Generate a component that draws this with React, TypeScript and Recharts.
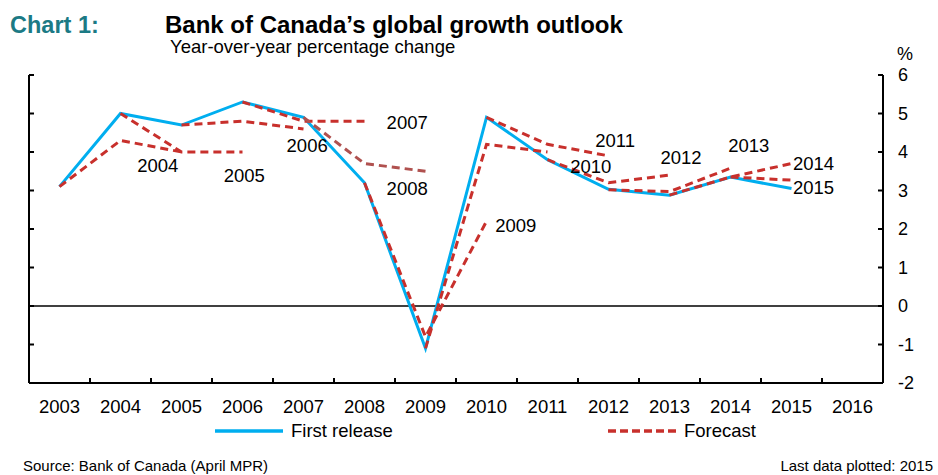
import React from 'react';
import { LineChart, Line, XAxis, YAxis, ReferenceLine, ReferenceDot } from 'recharts';

// ---- Data ----
const years = [2003, 2004, 2005, 2006, 2007, 2008, 2009, 2010, 2011, 2012, 2013, 2014, 2015, 2016];
const firstRelease: (number | null)[] = [3.1, 5.0, 4.7, 5.3, 4.9, 3.2, -1.1, 4.9, 3.8, 3.03, 2.88, 3.35, 3.05, null];

// Forecast vintages (April MPR of each year); each starts the year before the vintage
const vintages = [2004, 2005, 2006, 2007, 2008, 2009, 2010, 2011, 2012, 2013, 2014, 2015];
const forecastValues: number[][] = [
  [3.1, 4.3, 4.0],
  [5.0, 4.0, 4.0],
  [4.7, 4.8, 4.6],
  [5.3, 4.8, 4.8],
  [4.9, 3.7, 3.5],
  [3.2, -0.8, 2.2],
  [-1.1, 4.2, 4.0],
  [4.9, 4.2, 3.9],
  [3.8, 3.2, 3.4],
  [3.02, 2.97, 3.58],
  [2.88, 3.35, 3.7],
  [3.35, 3.27],
];

// Year labels for each forecast vintage (placed in data coordinates)
const vintageLabelX = [2004.61, 2006.03, 2007.06, 2008.7, 2008.7, 2010.48, 2011.71, 2012.11, 2013.19, 2014.3, 2015.36, 2015.36];
const vintageLabelY = [3.66, 3.4, 4.16, 4.77, 3.06, 2.1, 3.62, 4.31, 3.85, 4.16, 3.71, 3.07];

const yTicks = [-2, -1, 0, 1, 2, 3, 4, 5, 6];
const boundaryTicks = [2003.5, 2004.5, 2005.5, 2006.5, 2007.5, 2008.5, 2009.5, 2010.5, 2011.5, 2012.5, 2013.5, 2014.5, 2015.5];

const data = years.map((yr, i) => {
  const row: Record<string, number | null> = { year: yr, first: firstRelease[i] };
  vintages.forEach((v, k) => {
    const idx = yr - (v - 1);
    const vals = forecastValues[k];
    row['f' + v] = idx >= 0 && idx < vals.length ? vals[idx] : null;
  });
  return row;
});

const FONT = "Arial, 'Liberation Sans', Helvetica, sans-serif";
const BLUE = '#00AEEF';
const RED = '#C8302C';
const MUTED_RED = '#B0514F';

const emptyTick = () => <g />;

export default function App() {
  return (
    <div style={{ position: 'absolute', left: 0, top: 0, width: 938, height: 475, background: '#fff', fontFamily: FONT }}>
      <LineChart width={938} height={475} data={data} margin={{ top: 75, right: 0, bottom: 62, left: 29 }}>
        <XAxis
          xAxisId="years"
          type="number"
          dataKey="year"
          domain={[2002.5, 2016.5]}
          ticks={years}
          interval={0}
          tickLine={false}
          tickSize={6}
          tickMargin={11}
          axisLine={{ stroke: '#000', strokeWidth: 2 }}
          tick={{ fill: '#000', fontSize: 18.5, fontFamily: FONT }}
          height={30}
        />
        <XAxis
          xAxisId="marks"
          type="number"
          dataKey="year"
          domain={[2002.5, 2016.5]}
          ticks={boundaryTicks}
          interval={0}
          mirror
          tickSize={5}
          tickLine={{ stroke: '#000', strokeWidth: 2 }}
          axisLine={false}
          tick={emptyTick}
          height={30}
        />
        <YAxis
          yAxisId="pct"
          orientation="right"
          type="number"
          domain={[-2, 6]}
          ticks={yTicks}
          interval={0}
          width={55}
          tickLine={false}
          tickSize={6}
          tickMargin={9}
          axisLine={{ stroke: '#000', strokeWidth: 2 }}
          tick={{ fill: '#000', fontSize: 18, fontFamily: FONT, textAnchor: 'start' }}
        />
        <YAxis
          yAxisId="rightMarks"
          orientation="right"
          type="number"
          domain={[-2, 6]}
          ticks={yTicks}
          interval={0}
          mirror
          width={20}
          tickSize={5}
          tickLine={{ stroke: '#000', strokeWidth: 2 }}
          axisLine={false}
          tick={emptyTick}
        />
        <YAxis
          yAxisId="leftMarks"
          orientation="left"
          type="number"
          domain={[-2, 6]}
          ticks={yTicks}
          interval={0}
          mirror
          width={20}
          tickSize={5}
          tickLine={{ stroke: '#000', strokeWidth: 2 }}
          axisLine={{ stroke: '#000', strokeWidth: 2 }}
          tick={emptyTick}
        />
        <ReferenceLine xAxisId="years" yAxisId="pct" y={0} stroke="#000" strokeWidth={1.5} />
        {/* invisible anchor series so that the tick-mark axes are bound to the data */}
        <Line xAxisId="marks" yAxisId="leftMarks" dataKey="first" stroke="none" dot={false} activeDot={false} isAnimationActive={false} legendType="none" />
        <Line xAxisId="marks" yAxisId="rightMarks" dataKey="first" stroke="none" dot={false} activeDot={false} isAnimationActive={false} legendType="none" />
        <Line
          xAxisId="years"
          yAxisId="pct"
          dataKey="first"
          stroke={BLUE}
          strokeWidth={3}
          dot={false}
          activeDot={false}
          isAnimationActive={false}
          strokeLinejoin="miter"
        />
        {vintages.map((v) => (
          <Line
            key={v}
            xAxisId="years"
            yAxisId="pct"
            dataKey={'f' + v}
            stroke={v === 2008 ? MUTED_RED : RED}
            strokeWidth={3}
            strokeDasharray="8 5"
            dot={false}
            activeDot={false}
            isAnimationActive={false}
          />
        ))}
        {vintages.map((v, i) => (
          <ReferenceDot
            key={'lbl' + v}
            xAxisId="years"
            yAxisId="pct"
            x={vintageLabelX[i]}
            y={vintageLabelY[i]}
            r={0}
            shape={(p: any) => (
              <text
                x={p.cx}
                y={p.cy}
                textAnchor="middle"
                dominantBaseline="central"
                fontSize={18.5}
                fontFamily={FONT}
                fill="#000"
              >
                {String(v)}
              </text>
            )}
          />
        ))}
      </LineChart>
      <svg width={938} height={475} style={{ position: 'absolute', left: 0, top: 0, pointerEvents: 'none' }}>
        <text x={10} y={33} fontSize={23.5} fontWeight="bold" fill="#1B7A85" fontFamily={FONT}>Chart 1:</text>
        <text x={165} y={33} fontSize={24} fontWeight="bold" fill="#000" fontFamily={FONT}>
          Bank of Canada’s global growth outlook
        </text>
        <text x={170} y={53} fontSize={18.5} fill="#000" fontFamily={FONT}>Year-over-year percentage change</text>
        <text x={897} y={60} fontSize={18} fill="#000" fontFamily={FONT}>%</text>
        <line x1={215} y1={431} x2={283} y2={431} stroke={BLUE} strokeWidth={3.5} />
        <text x={291} y={437} fontSize={18.5} fill="#000" fontFamily={FONT}>First release</text>
        <line x1={608} y1={431} x2={677} y2={431} stroke={RED} strokeWidth={3.5} strokeDasharray="8 4" />
        <text x={684} y={437} fontSize={18.5} fill="#000" fontFamily={FONT}>Forecast</text>
        <text x={23} y={471} fontSize={15} fill="#000" fontFamily={FONT}>Source: Bank of Canada (April MPR)</text>
        <text x={933} y={471} fontSize={15} fill="#000" fontFamily={FONT} textAnchor="end">Last data plotted: 2015</text>
      </svg>
    </div>
  );
}
